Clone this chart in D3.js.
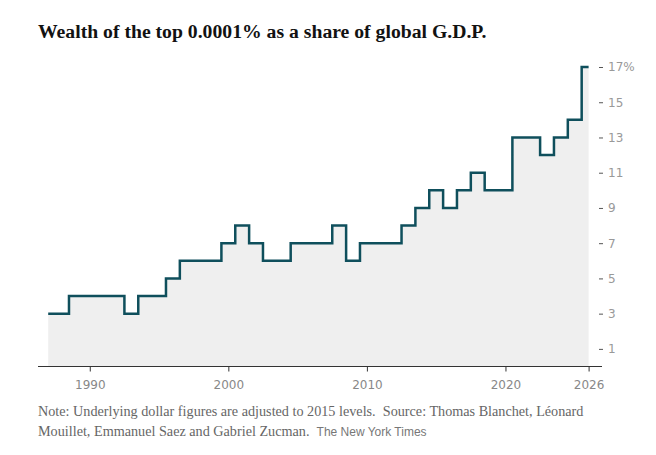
<!DOCTYPE html>
<html lang="en">
<head>
    <meta charset="UTF-8">
    <title>Wealth of the top 0.0001%</title>
    <script src="https://d3js.org/d3.v7.min.js"></script>
    <style>
        body {
            margin: 0;
            background: #fff;
        }
        .note {
            white-space: pre;
        }
    </style>
</head>
<body>
    <div id="chart"></div>

    <script>
        // data
        const years = [1987, 1988, 1989, 1990, 1991, 1992, 1993, 1994, 1995, 1996,
            1997, 1998, 1999, 2000, 2001, 2002, 2003, 2004, 2005, 2006,
            2007, 2008, 2009, 2010, 2011, 2012, 2013, 2014, 2015, 2016,
            2017, 2018, 2019, 2020, 2021, 2022, 2023, 2024, 2025, 2026];
        const shares = [3, 3, 4, 4, 4, 4, 3, 4, 4, 5,
            6, 6, 6, 7, 8, 7, 6, 6, 7, 7,
            7, 8, 6, 7, 7, 7, 8, 9, 10, 9,
            10, 11, 10, 10, 13, 13, 12, 13, 14, 17];
        const xTicks = [1990, 2000, 2010, 2020, 2026];
        const yTicks = [1, 3, 5, 7, 9, 11, 13, 15, 17];

        const title = "Wealth of the top 0.0001% as a share of global G.D.P.";
        const noteLines = [
            "Note: Underlying dollar figures are adjusted to 2015 levels.  Source: Thomas Blanchet, Léonard",
            "Mouillet, Emmanuel Saez and Gabriel Zucman.  "
        ];
        const credit = "The New York Times";

        const width = 656;
        const height = 455;

        const data = years.map((y, i) => ({ year: y, value: shares[i] }));

        const svg = d3.select("#chart")
            .append("svg")
            .attr("width", width)
            .attr("height", height);

        const x = d3.scaleLinear()
            .domain([1987, 2026])
            .range([48.2, 588.6]);

        const y = d3.scaleLinear()
            .domain([0, 17])
            .range([366.5, 67]);

        // title
        svg.append("text")
            .attr("x", 38)
            .attr("y", 38)
            .attr("font-family", "Liberation Serif, serif")
            .attr("font-weight", "bold")
            .attr("font-size", 19.7)
            .attr("fill", "#121212")
            .text(title);

        // area + step line
        const area = d3.area()
            .curve(d3.curveStep)
            .x(d => x(d.year))
            .y0(y(0))
            .y1(d => y(d.value));

        svg.append("path")
            .datum(data)
            .attr("fill", "#efefef")
            .attr("d", area);

        const line = d3.line()
            .curve(d3.curveStep)
            .x(d => x(d.year))
            .y(d => y(d.value));

        svg.append("path")
            .datum(data)
            .attr("fill", "none")
            .attr("stroke", "#0f4f5c")
            .attr("stroke-width", 2.5)
            .attr("d", line);

        // x axis
        const xAxis = svg.append("g")
            .attr("transform", `translate(0,${y(0)})`)
            .call(d3.axisBottom(x).tickValues(xTicks).tickFormat(d3.format("d")).tickSize(5).tickPadding(9));

        xAxis.select(".domain").remove();
        xAxis.append("line")
            .attr("x1", 38)
            .attr("x2", 602)
            .attr("stroke", "#333")
            .attr("stroke-width", 1.2);
        xAxis.selectAll(".tick line").attr("stroke", "#333");
        xAxis.selectAll(".tick text")
            .attr("fill", "#888")
            .attr("font-family", "DejaVu Sans, sans-serif")
            .attr("font-size", 12);

        // y axis on the right
        const yAxis = svg.append("g")
            .attr("transform", "translate(599,0)")
            .call(d3.axisRight(y).tickValues(yTicks)
                .tickFormat(d => d === 17 ? d + "%" : d)
                .tickSize(4).tickPadding(5));

        yAxis.select(".domain").remove();
        yAxis.selectAll(".tick line").attr("stroke", "#555");
        yAxis.selectAll(".tick text")
            .attr("fill", "#999")
            .attr("font-family", "DejaVu Sans, sans-serif")
            .attr("font-size", 12);

        // note
        const note = svg.append("text")
            .attr("class", "note")
            .attr("font-family", "Liberation Serif, serif")
            .attr("font-size", 14.2)
            .attr("fill", "#666");

        note.selectAll("tspan.line")
            .data(noteLines)
            .enter()
            .append("tspan")
            .attr("class", "line")
            .attr("x", 38)
            .attr("y", (d, i) => 416 + i * 20)
            .text(d => d);

        note.append("tspan")
            .attr("font-family", "Liberation Sans, sans-serif")
            .attr("font-size", 12)
            .attr("fill", "#777")
            .text(credit);
    </script>
</body>
</html>
